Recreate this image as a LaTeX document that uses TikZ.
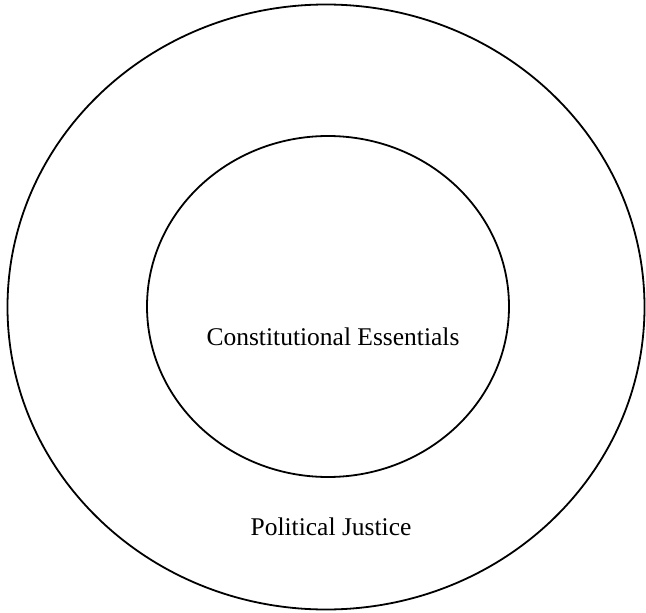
\documentclass[tikz,border=0pt]{standalone}
\usepackage{fontspec}
\setmainfont{Liberation Serif}
\usetikzlibrary{positioning}

\tikzset{
	ring/.style={line width=1.8pt},
	lbl/.style={font=\fontsize{25.5}{30}\selectfont, inner sep=0pt, anchor=base}
}

\begin{document}
\begin{tikzpicture}[x=1pt,y=-1pt]

	\useasboundingbox (0,0) rectangle (646,613);%页面范围

	\draw [ring] (326,307) ellipse (318.5 and 302.5);%外圈
	\draw [ring] (328,306.5) ellipse (181 and 170.5);%内圈

	\node [lbl] (essentials) at (333,345) {Constitutional Essentials};
	\node [lbl] (justice) at (331,535) {Political Justice};

\end{tikzpicture}
\end{document}
